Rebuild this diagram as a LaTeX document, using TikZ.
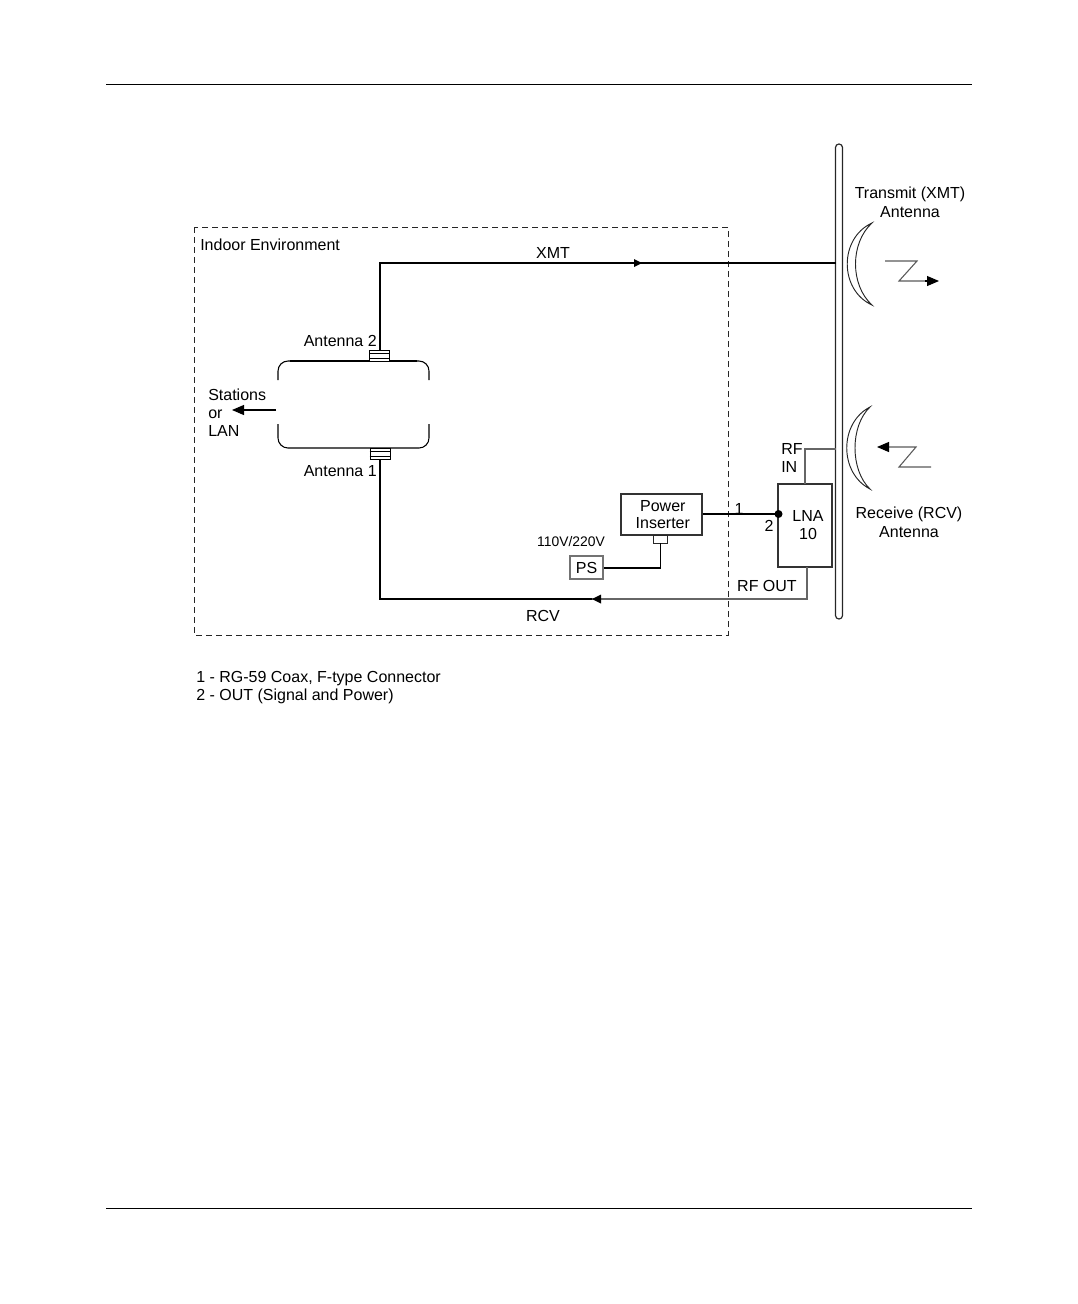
\documentclass[tikz,border=0pt]{standalone}
\usepackage{fontspec}
\setmainfont{Liberation Sans}
\usetikzlibrary{arrows.meta,calc}
\tikzset{
  px/.style={x=0.75pt,y=-0.75pt},
  lbl/.style={font=\fontsize{12}{13.5}\selectfont,inner sep=0pt,align=center,text=black},
  smalllbl/.style={font=\fontsize{10.4}{12}\selectfont,inner sep=0pt,text=black},
  boxn/.style={draw=black!80,line width=0.85pt,inner sep=0pt,font=\fontsize{12}{13.5}\selectfont,align=center},
  wire/.style={draw=black,line width=1pt},
  graywire/.style={draw=black!60,line width=0.85pt},
  tip/.style={-{Triangle[length=9pt,width=7.5pt]}},
  rule/.style={draw=black,line width=0.7pt},
  ant/.style={draw=black!85,line width=0.7pt,fill=white},
  conn/.style={draw=black,fill=white,line width=0.7pt,minimum width=15pt,minimum height=8pt,inner sep=0pt},
}
\begin{document}
\begin{tikzpicture}[px]
\useasboundingbox (0,0) rectangle (1078,1304);
\coordinate (r1a) at (106,84); \coordinate (r1b) at (972,84);
\coordinate (r2a) at (106,1208); \coordinate (r2b) at (972,1208);
\draw[rule] (r1a) -- (r1b);
\draw[rule] (r2a) -- (r2b);
% indoor environment
\draw[black!85,line width=0.7pt,dash pattern=on 4.5pt off 3pt] (194,227) rectangle (728,635);
\node[lbl,anchor=west] (indoor) at (200,245) {Indoor Environment};
% pole
\draw[black!85,line width=0.9pt,rounded corners=2.6pt] (835.5,619) -- (835.5,144) -- (842.5,144) -- (842.5,619) -- cycle;
% device body
\draw[black,line width=0.8pt,rounded corners=7.5pt] (278,380) -- (278,361) -- (429,361) -- (429,380);
\draw[black,line width=0.8pt,rounded corners=7.5pt] (278,424) -- (278,448) -- (429,448) -- (429,424);
\draw[black,line width=1.1pt] (290,361) -- (417,361);
% connectors
\node[conn] (c2) at (379.5,356) {};
\draw[black,line width=0.7pt] (c2.west |- 0,353.5) -- (c2.east |- 0,353.5) (c2.west |- 0,358) -- (c2.east |- 0,358);
\node[conn] (c1) at (380,454) {};
\draw[black,line width=0.7pt] (c1.west |- 0,451.5) -- (c1.east |- 0,451.5) (c1.west |- 0,456) -- (c1.east |- 0,456);
% boxes
\node[boxn,minimum width=60.75pt,minimum height=30.75pt] (pi) at (661.5,514.5) {\hspace*{2pt}\raisebox{-0.7pt}{Power}\\[-0.8pt]\hspace*{2pt}\raisebox{-0.7pt}{Inserter}};
\node[draw=black!85,fill=white,line width=0.7pt,minimum width=11pt,minimum height=6pt,inner sep=0pt] (pis) at (660.5,539) {};
\node[draw=black!55,line width=0.8pt,inner sep=0pt,minimum width=24.75pt,minimum height=17.25pt,font=\fontsize{12}{13}\selectfont] (ps) at (586.5,567.5) {PS};
\node[boxn,minimum width=40.5pt,minimum height=62.25pt] (lna) at (805,525.5) {\hspace*{4.5pt}LNA\\\hspace*{4.5pt}10};
% wires
\coordinate (xmtc) at (380,263);
\coordinate (xmte) at (835.5,263);
\draw[wire] (c2.north -| xmtc) -- (xmtc) -- (xmte);
\fill[black] (642,263) -- (634,259) -- (634,267) -- cycle;
\coordinate (rcvc) at (380,599);
\coordinate (rcve) at (807,599);
\coordinate (lnab) at (807,567);
\draw[wire] (c1.south -| rcvc) -- (rcvc) -- (592,599);
\draw[graywire] (592,599) -- (rcve) -- (lnab);
\fill[black] (592,599) -- (601,594.5) -- (601,603.5) -- cycle;
\coordinate (rfa) at (835.5,449); \coordinate (rfb) at (805,449); \coordinate (rfc) at (805,484);
\draw[graywire] (rfa) -- (rfb) -- (rfc);
\coordinate (dot) at (778.5,514);
\fill[black] (dot) circle (4);
\draw[wire] (pi.east |- dot) -- (dot);
\coordinate (pb) at (660.5,568);
\draw[wire] (pis.south) -- (pb) -- (ps.east |- pb);
\coordinate (st) at (276,410); \coordinate (sa) at (232,410);
\draw[black,line width=0.8pt,tip] (st) -- (sa);
% XMT antenna
\draw[ant] (872,223) .. controls (839,238) and (839,290) .. (872,305) .. controls (850,285) and (850,243) .. (872,223) -- cycle;
\coordinate (z1) at (885,261); \coordinate (z2) at (917,261); \coordinate (z3) at (899,281); \coordinate (z4) at (939,281);
\draw[black!65,line width=0.8pt] (z1) -- (z2) -- (z3) -- (925,281);
\draw[black,line width=0.8pt,tip] (925,281) -- (z4);
% RCV antenna
\draw[ant] (870,407) .. controls (839,423) and (839,473) .. (870,489) .. controls (850,470) and (850,426) .. (870,407) -- cycle;
\coordinate (y1) at (877,447); \coordinate (y2) at (916,447); \coordinate (y3) at (899,467); \coordinate (y4) at (931,467);
\draw[black!65,line width=0.8pt] (y4) -- (y3) -- (y2) -- (888,447);
\draw[black,line width=0.8pt,tip] (888,447) -- (y1);
% labels
\node[lbl] (xmt) at (553,253) {XMT};
\node[lbl] (rcv) at (543,616) {RCV};
\node[lbl,anchor=east] (a2) at (377,341) {Antenna 2};
\node[lbl,anchor=east] (a1) at (377,471) {Antenna 1};
\node[lbl,align=left,anchor=west] (sta) at (208,413) {Stations\\or\\LAN};
\node[lbl] (one) at (739,509) {1};
\node[lbl] (two) at (769,526) {2};
\node[lbl,align=left,anchor=west] (rfin) at (781,458) {RF\\IN};
\node[lbl] (rfout) at (767,585.5) {RF OUT};
\node[smalllbl] (volt) at (571,542) {110V/220V};
\node[lbl] (tx) at (910,202.5) {Transmit (XMT)\\[0.7pt]Antenna};
\node[lbl] (rx) at (909,522) {Receive (RCV)\\[0.7pt]Antenna};
\node[lbl,align=left,anchor=north west] (notes) at (196,671) {1 - RG-59 Coax, F-type Connector\\2 - OUT (Signal and Power)};
\end{tikzpicture}
\end{document}
